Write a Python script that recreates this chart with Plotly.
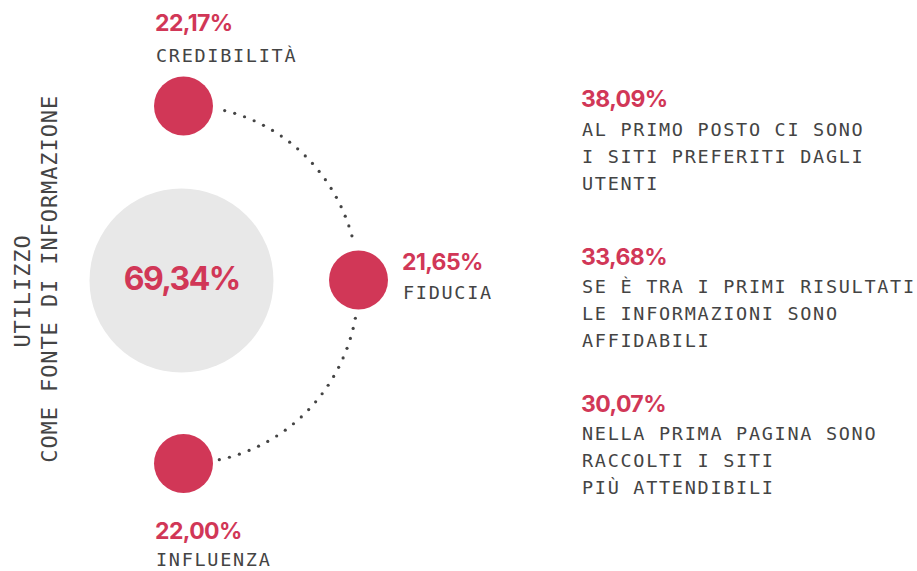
import numpy as np
import plotly.graph_objects as go

# ---- data ----
total_label = "69,34%"
side_titles = ["UTILIZZO", "COME FONTE DI INFORMAZIONE"]
node_values = ["22,17%", "21,65%", "22,00%"]
node_names = ["CREDIBILITÀ", "FIDUCIA", "INFLUENZA"]
right_values = ["38,09%", "33,68%", "30,07%"]
right_lines = [
    ["AL PRIMO POSTO CI SONO", "I SITI PREFERITI DAGLI", "UTENTI"],
    ["SE È TRA I PRIMI RISULTATI", "LE INFORMAZIONI SONO", "AFFIDABILI"],
    ["NELLA PRIMA PAGINA SONO", "RACCOLTI I SITI", "PIÙ ATTENDIBILI"],
]

# ---- layout / style ----
W, H = 917, 571
RED = "#D13757"
GREY = "#E8E8E8"
TXT = "#444444"
DOT = "#444444"
MONO = "DejaVu Sans Mono"
BOLD = "Inter"

big_c = (181.5, 280.5)
big_d = 184
node_xy = [(183.5, 106), (358.5, 280), (183.5, 463.5)]
node_d = 59

fig = go.Figure()

# dotted arc (ellipse through the three node centres)
cx, cy = 183.5, 284.5
rx, ry = 175.0, 179.0
th = np.linspace(np.pi / 2, -np.pi / 2, 4000)
ax_ = cx + rx * np.cos(th)
ay_ = cy - ry * np.sin(th)
seg = np.hypot(np.diff(ax_), np.diff(ay_))
s = np.concatenate([[0], np.cumsum(seg)])
pts = np.arange(0, s[-1], 10.4)
px = np.interp(pts, s, ax_)
py = np.interp(pts, s, ay_)
keep = np.ones_like(px, dtype=bool)
for (nx, ny) in node_xy:
    keep &= np.hypot(px - nx, py - ny) > node_d / 2 + 6
fig.add_trace(go.Scatter(x=px[keep], y=py[keep], mode="markers",
                         marker=dict(size=3.2, color=DOT), hoverinfo="skip"))

# big grey circle
fig.add_trace(go.Scatter(x=[big_c[0]], y=[big_c[1]], mode="markers",
                         marker=dict(size=big_d, color=GREY, line=dict(width=0)),
                         hoverinfo="skip"))
# red nodes
fig.add_trace(go.Scatter(x=[p[0] for p in node_xy], y=[p[1] for p in node_xy],
                         mode="markers",
                         marker=dict(size=node_d, color=RED, line=dict(width=0)),
                         hoverinfo="skip"))

ann = []

def add(text, x, y, font, size, color, xanchor="left", yanchor="middle", angle=0, weight=None):
    f = dict(family=font, size=size, color=color)
    if weight:
        f["weight"] = weight
    ann.append(dict(text=text, x=x, y=y, xref="x", yref="y", showarrow=False,
                    xanchor=xanchor, yanchor=yanchor, align="left" if xanchor == "left" else "center",
                    textangle=angle, font=f, borderpad=0))

# centre value
add(total_label, 181.5, 278, BOLD, 32, RED, xanchor="center", weight=700)

# side titles (rotated)
add(side_titles[0], 22, 291, MONO, 22, TXT, xanchor="center", angle=-90)
add(side_titles[1], 49, 279, MONO, 22, TXT, xanchor="center", angle=-90)

# node labels
val_pos = [(154, 23), (401, 262), (154, 531)]
name_pos = [(155, 55), (402, 292), (155, 559)]
for v, n, vp, np_ in zip(node_values, node_names, val_pos, name_pos):
    add(v, vp[0], vp[1], BOLD, 23, RED, weight=700)
    add(n, np_[0], np_[1], MONO, 18.5, TXT)

# right column
right_y = [99, 256.5, 403.5]
for v, lines, y0 in zip(right_values, right_lines, right_y):
    add(v, 580, y0, BOLD, 23, RED, weight=700)
    for i, ln in enumerate(lines):
        add(ln, 581, y0 + 30 + 27 * i, MONO, 18.5, TXT)

fig.update_layout(
    width=W, height=H,
    margin=dict(l=0, r=0, t=0, b=0),
    paper_bgcolor="white", plot_bgcolor="white",
    showlegend=False,
    xaxis=dict(range=[0, W], visible=False, fixedrange=True),
    yaxis=dict(range=[H, 0], visible=False, fixedrange=True),
    annotations=ann,
)

post = """
document.body.style.margin = '0';
document.body.style.padding = '0';
document.body.style.overflow = 'hidden';
document.querySelectorAll('.annotation-text').forEach(function(el){
  var ff = (el.style.fontFamily || '');
  var fs = parseFloat(el.style.fontSize);
  if (ff.indexOf('Mono') >= 0) { el.style.letterSpacing = (fs > 20 ? '0.9px' : '1.7px'); }
  else { el.style.letterSpacing = (fs > 28 ? '-1.6px' : '-0.6px'); }
});
"""
fig.write_html("out.html", post_script=post, config={"displayModeBar": False})
